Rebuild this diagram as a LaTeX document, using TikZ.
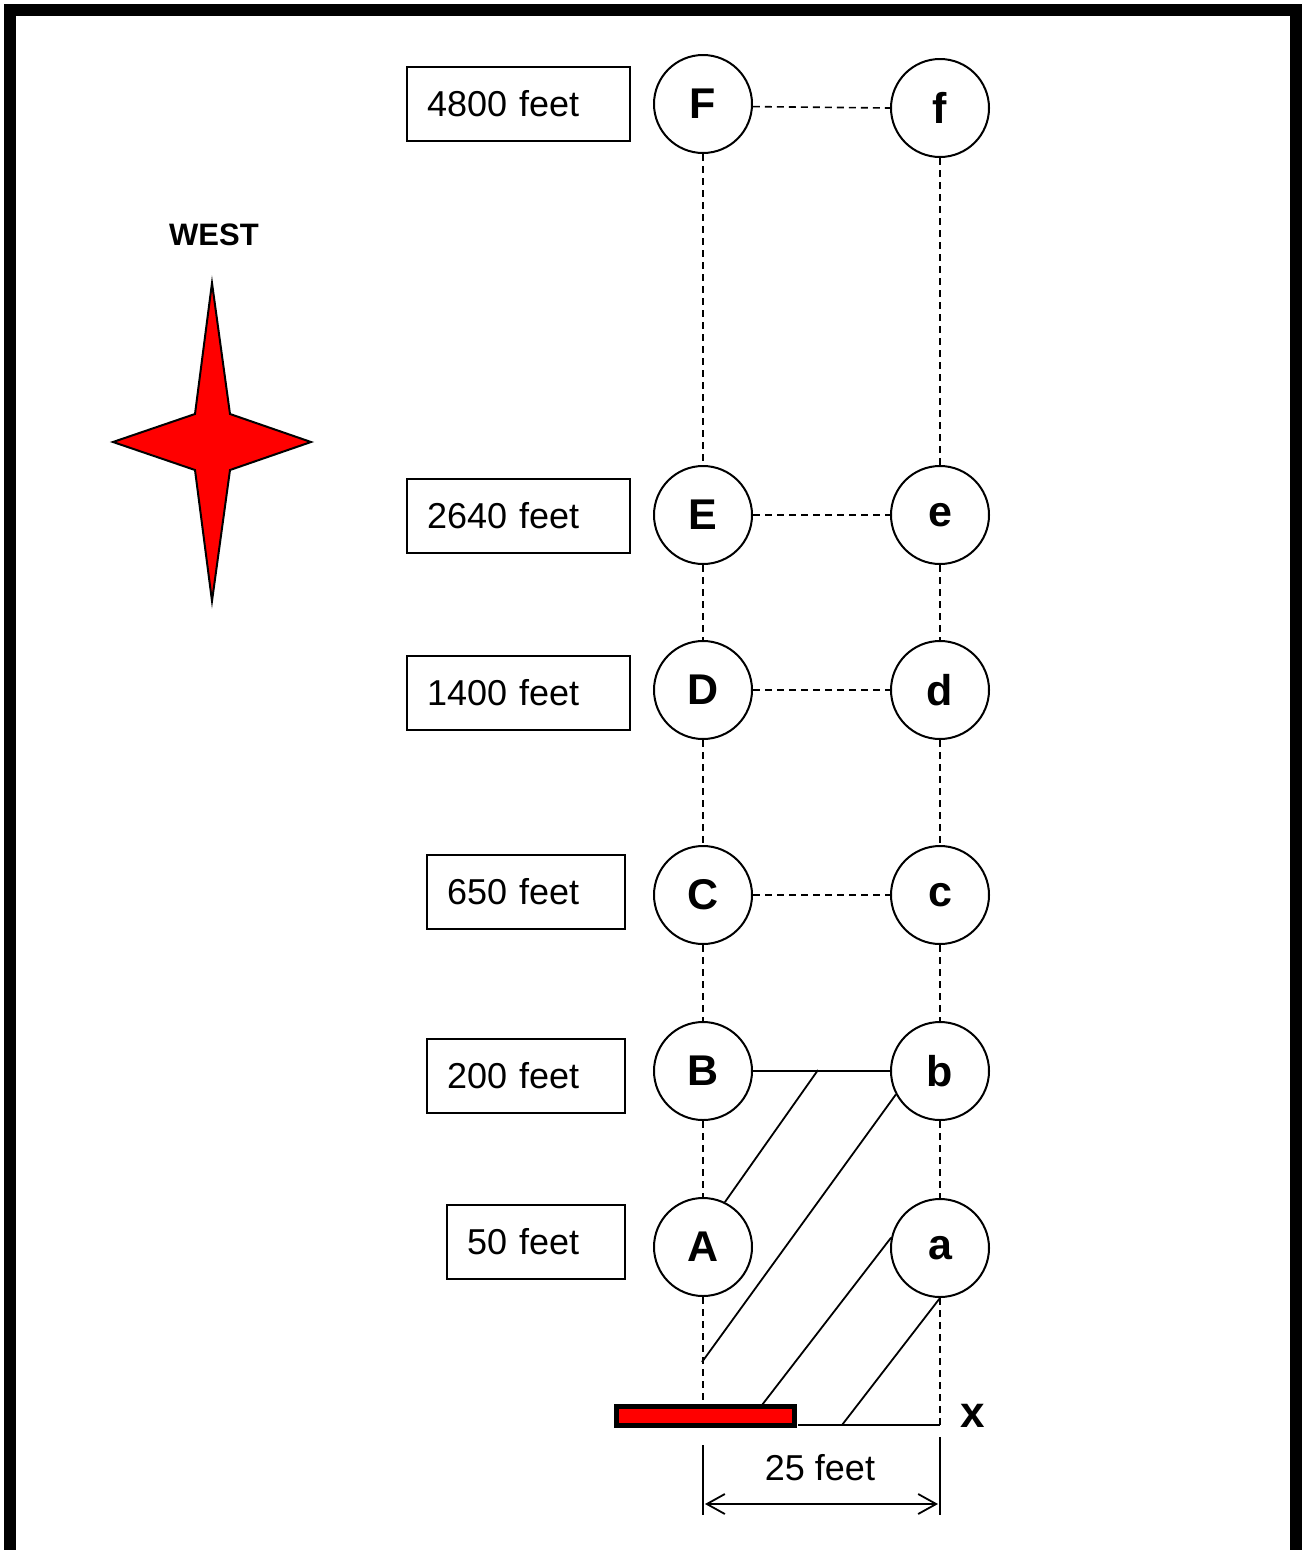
\documentclass[tikz,border=0pt]{standalone}
\usepackage{fontspec}
\setmainfont{Liberation Sans}
\usetikzlibrary{arrows.meta}
\begin{document}
\begin{tikzpicture}[x=1pt,y=-1pt,
  ring/.style={circle,draw,line width=2pt,minimum size=98pt,inner sep=0pt,font=\fontsize{43}{45}\selectfont\bfseries},
  lab/.style={draw,line width=2pt,anchor=west,minimum height=74pt,align=left,inner xsep=20pt,font=\fontsize{36}{40}\selectfont},
  dsh/.style={line width=1.6pt,dash pattern=on 7pt off 5pt},
  sol/.style={line width=1.8pt}]
\clip (0,0) rectangle (1302,1550);
\useasboundingbox (0,0) rectangle (1302,1550);
\draw[line width=12pt] (10,10) rectangle (1296,1556);
% star
\node[font=\fontsize{31}{34}\selectfont\bfseries] (west) at (214,235) {WEST};
\draw[line width=2pt,fill=red,line join=miter] (212,283) -- (230,414) -- (311,442) -- (230,470) -- (212,601) -- (195,470) -- (113,442) -- (195,414) -- cycle;
% circles
\node[ring] (F) at (703,104) {F};
\node[ring] (f) at (940,108) {f};
\node[ring] (E) at (703,515) {E};
\node[ring] (e) at (940,515) {e};
\node[ring] (D) at (703,690) {D};
\node[ring] (d) at (940,690) {d};
\node[ring] (C) at (703,895) {C};
\node[ring] (c) at (940,895) {c};
\node[ring] (B) at (703,1071) {B};
\node[ring] (b) at (940,1071) {b};
\node[ring] (A) at (703,1247) {A};
\node[ring] (a) at (940,1248) {a};
% boxes
\node[lab,text width=183pt] (l4800) at (406,104) {4800 feet};
\node[lab,text width=183pt] (l2640) at (406,516) {2640 feet};
\node[lab,text width=183pt] (l1400) at (406,693) {1400 feet};
\node[lab,text width=158pt] (l650) at (426,892) {650 feet};
\node[lab,text width=158pt] (l200) at (426,1076) {200 feet};
\node[lab,text width=138pt] (l50) at (446,1242) {50 feet};
% horizontal dashed
\draw[dsh] (F.-3.5) -- (f.west);
\draw[dsh] (E.east) -- (e.west);
\draw[dsh] (D.east) -- (d.west);
\draw[dsh] (C.east) -- (c.west);
\draw[sol] (B.east) -- (b.west);
% vertical dashed
\draw[dsh] (F) -- (E);
\draw[dsh] (E) -- (D);
\draw[dsh] (D) -- (C);
\draw[dsh] (C) -- (B);
\draw[dsh] (B) -- (A);
\draw[dsh] (f) -- (e);
\draw[dsh] (e) -- (d);
\draw[dsh] (d) -- (c);
\draw[dsh] (c) -- (b);
\draw[dsh] (b) -- (a);
% bar
\node[draw,line width=4.5pt,fill=red,minimum width=178pt,minimum height=19pt,inner sep=0pt] (bar) at (705.5,1416) {};
\coordinate (atop) at (703,1402);
\coordinate (xend) at (940,1425);
\coordinate (barR) at (798,1425);
\draw[dsh] (A.south) -- (atop);
\draw[dsh] (a.south) -- (xend);
\draw[sol] (barR) -- (xend);
% diagonals
\coordinate (p1) at (818,1070);
\coordinate (p2) at (702,1362);
\coordinate (p3) at (762,1405);
\coordinate (p4) at (842,1425);
\draw[sol] (p1) -- (A.64);
\draw[sol] (b.208) -- (p2);
\draw[sol] (a.168) -- (p3);
\draw[sol] (a.south) -- (p4);
\node[font=\fontsize{44}{46}\selectfont\bfseries] (xlab) at (973,1416) {x};
% dimension
\coordinate (e1t) at (703,1445);
\coordinate (e1b) at (703,1515);
\coordinate (e2t) at (940,1437);
\coordinate (e2b) at (940,1515);
\draw[sol] (e1t) -- (e1b);
\draw[sol] (e2t) -- (e2b);
\coordinate (d1) at (705,1504);
\coordinate (d2) at (938,1504);
\draw[sol,{Straight Barb[length=18pt,width=20pt]}-{Straight Barb[length=18pt,width=20pt]}] (d1) -- (d2);
\node[font=\fontsize{36}{40}\selectfont] (dim) at (820,1468) {25 feet};
\end{tikzpicture}
\end{document}
